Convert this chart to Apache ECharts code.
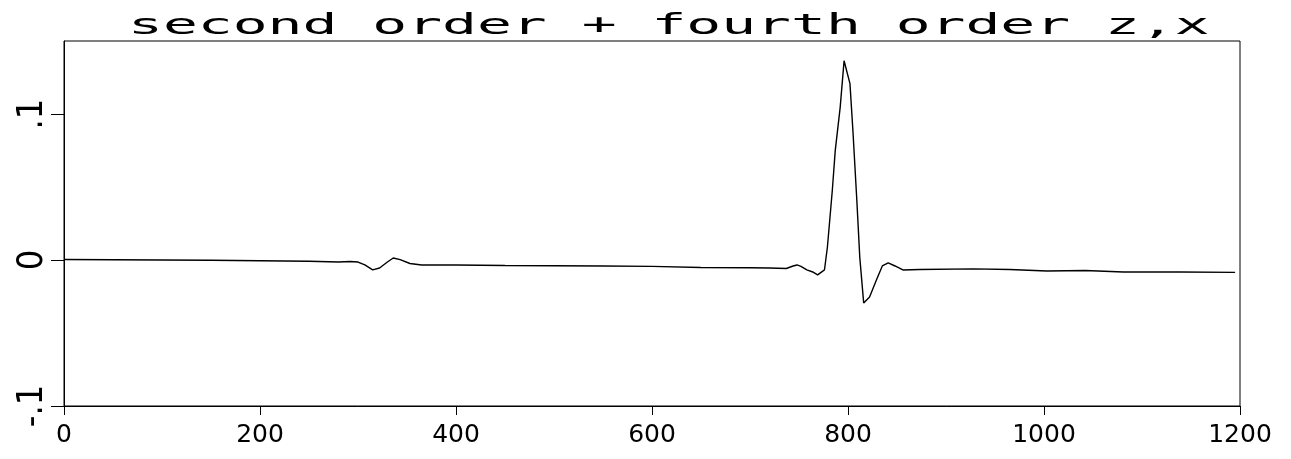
<!DOCTYPE html>
<html><head><meta charset="utf-8">
<script src="https://cdn.jsdelivr.net/npm/echarts@6/dist/echarts.min.js"></script>
<style>html,body{margin:0;padding:0;background:#fff}#c{width:1291px;height:459px}</style>
</head><body><div id="c"></div>
<script>
const titleText = 'second order + fourth order z,x';
const xValues = [0, 50, 100, 150, 200, 250, 280, 292, 300, 307, 315, 322, 330, 336, 343, 353, 365, 400, 450, 500, 550, 600, 650, 700, 720, 737, 744, 748, 752, 758, 764, 769, 776, 779, 784, 787, 792, 796, 802, 805, 809, 812, 816, 822, 829, 835, 841, 848, 856, 873, 928, 965, 1003, 1042, 1081, 1139, 1195];
const yValues = [0.0003, 0.0002, 0.0, -0.0002, -0.0005, -0.0009, -0.0014, -0.0010, -0.0014, -0.0034, -0.0068, -0.0055, -0.0014, 0.0014, 0.0003, -0.0024, -0.0034, -0.0034, -0.0038, -0.0039, -0.0041, -0.0044, -0.0051, -0.0053, -0.0055, -0.0058, -0.0041, -0.0034, -0.0044, -0.0068, -0.0082, -0.0102, -0.0068, 0.0089, 0.0478, 0.0751, 0.1044, 0.1365, 0.1208, 0.0887, 0.0410, 0.0020, -0.0294, -0.0253, -0.0137, -0.0041, -0.0020, -0.0041, -0.0068, -0.0065, -0.0061, -0.0065, -0.0075, -0.0072, -0.0082, -0.0082, -0.0085];
const xTicks = [0, 200, 400, 600, 800, 1000, 1200];
const yTicks = [-0.1, 0, 0.1];
const yTickLabels = ['-.1', '0', '.1'];

const chart = echarts.init(document.getElementById('c'), null, {renderer: 'canvas'});
const lineData = xValues.map((x, i) => [x, yValues[i]]);
chart.setOption({
  animation: false,
  backgroundColor: '#fff',
  grid: {left: 64, right: 51, top: 41, bottom: 53, show: true, borderColor: '#000', borderWidth: 1, backgroundColor: 'transparent'},
  graphic: [{
    type: 'text', x: 128, y: 27, scaleX: 2.07,
    style: {text: titleText, font: '28px "DejaVu Sans Mono"', fill: '#000', stroke: '#fff', lineWidth: 1.7, align: 'left', verticalAlign: 'middle'}
  }],
  xAxis: {
    type: 'value', min: 0, max: 1200, interval: 200,
    axisLine: {onZero: false, lineStyle: {color: '#000', width: 1}},
    axisTick: {length: 9, lineStyle: {color: '#000'}, customValues: xTicks},
    axisLabel: {customValues: xTicks, color: '#000', fontFamily: 'DejaVu Sans', fontSize: 25, margin: 17,
      formatter: function (v) { return String(v); }},
    splitLine: {show: false}
  },
  yAxis: {
    type: 'value', min: -0.1, max: 0.15,
    axisLine: {onZero: false, lineStyle: {color: '#000', width: 1}},
    axisTick: {length: 13, lineStyle: {color: '#000'}, customValues: yTicks},
    axisLabel: {
      customValues: yTicks, rotate: 90, color: '#000',
      fontFamily: '"Liberation Sans Narrow", "DejaVu Sans Condensed", sans-serif', fontSize: 36, margin: 13,
      formatter: function (v) {
        for (let i = 0; i < yTicks.length; i++) { if (Math.abs(yTicks[i] - v) < 1e-9) return yTickLabels[i]; }
        return '';
      }
    },
    splitLine: {show: false}
  },
  series: [{
    type: 'line', data: lineData, showSymbol: false, smooth: false,
    lineStyle: {color: '#000', width: 1.4}
  }]
});
</script>
</body></html>
